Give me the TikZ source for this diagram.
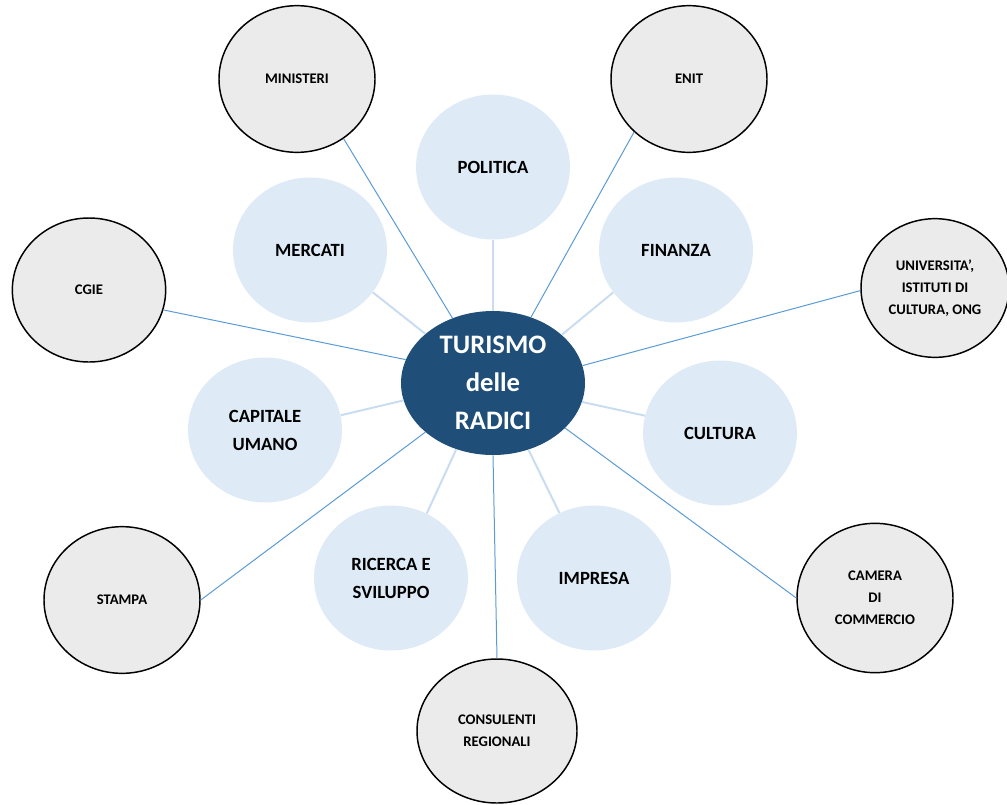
\documentclass[tikz,border=0pt]{standalone}
\usepackage{fontspec}
\setmainfont{Carlito}
\usetikzlibrary{shapes.geometric}

\definecolor{coreblue}{HTML}{1F4E79}
\definecolor{arealight}{HTML}{DEEBF7}
\definecolor{entegrey}{HTML}{EBEBEB}
\definecolor{linkblue}{HTML}{5B9BD5}
\definecolor{spokeblue}{HTML}{CADDF0}

\begin{document}
\begin{tikzpicture}[x=0.75pt, y=-0.75pt,
    core/.style={shape=ellipse, fill=coreblue, text=white, inner sep=0pt,
        minimum width=138pt, minimum height=108pt, align=center,
        font=\fontsize{20}{28.5}\selectfont\bfseries},
    area/.style={shape=ellipse, fill=arealight, inner sep=0pt,
        minimum width=115.5pt, minimum height=108.75pt, align=center,
        font=\fontsize{14}{21}\selectfont\bfseries},
    ente/.style={shape=ellipse, draw=black, line width=1.1pt, fill=entegrey, inner sep=0pt,
        minimum width=117pt, minimum height=110pt, align=center,
        font=\fontsize{11}{16.5}\selectfont\bfseries},
    spoke/.style={draw=spokeblue, line width=1.5pt},
    link/.style={draw=linkblue, line width=0.75pt}]
        \useasboundingbox (0,0) rectangle (1007,804);

        \node[core] (tur) at (493,383) {TURISMO\\delle\\RADICI};

        \node[area] (polit) at (493,167) {POLITICA};
        \node[area] (merc) at (310,250) {MERCATI};
        \node[area] (fin) at (676,250) {FINANZA};
        \node[area] (cap) at (265,430) {CAPITALE\\UMANO};
        \node[area] (cult) at (720,433) {CULTURA};
        \node[area] (ric) at (391,578) {RICERCA E\\SVILUPPO};
        \node[area] (impr) at (594,578) {IMPRESA};

        \node[ente] (mini) at (297,79) {MINISTERI};
        \node[ente] (enit) at (689,79) {ENIT};
        \node[ente, minimum width=111pt, minimum height=104pt] (univ) at (935,288) {UNIVERSITA',\\ISTITUTI DI\\CULTURA, ONG};
        \node[ente, minimum width=115pt, minimum height=108pt] (cgie) at (89,290) {CGIE};
        \node[ente] (stampa) at (122,600) {STAMPA};
        \node[ente, minimum height=112pt] (camera) at (875,598) {CAMERA\\DI\\COMMERCIO};
        \node[ente, minimum width=120pt, minimum height=108pt] (consul) at (497,731) {CONSULENTI\\REGIONALI};

        \path [spoke] (tur.90) edge (polit.270);
        \path [spoke] (tur.144.5) edge (merc.326);
        \path [spoke] (tur.35.5) edge (fin.214);
        \path [spoke] (tur.191.5) edge (cap.11);
        \path [spoke] (tur.348) edge (cult.167);
        \path [spoke] (tur.241) edge (ric.61);
        \path [spoke] (tur.298) edge (impr.118);

        \path [link] (tur.122.7) edge (mini.308);
        \path [link] (tur.60) edge (enit.224);
        \path [link] (tur.165) edge (cgie.345);
        \path [link] (tur.11) edge (univ.182);
        \path [link] (tur.216) edge (stampa.0);
        \path [link] (tur.270) edge (consul.90);
        \path [link] (tur.328) edge (camera.180);
    \end{tikzpicture}
\end{document}
